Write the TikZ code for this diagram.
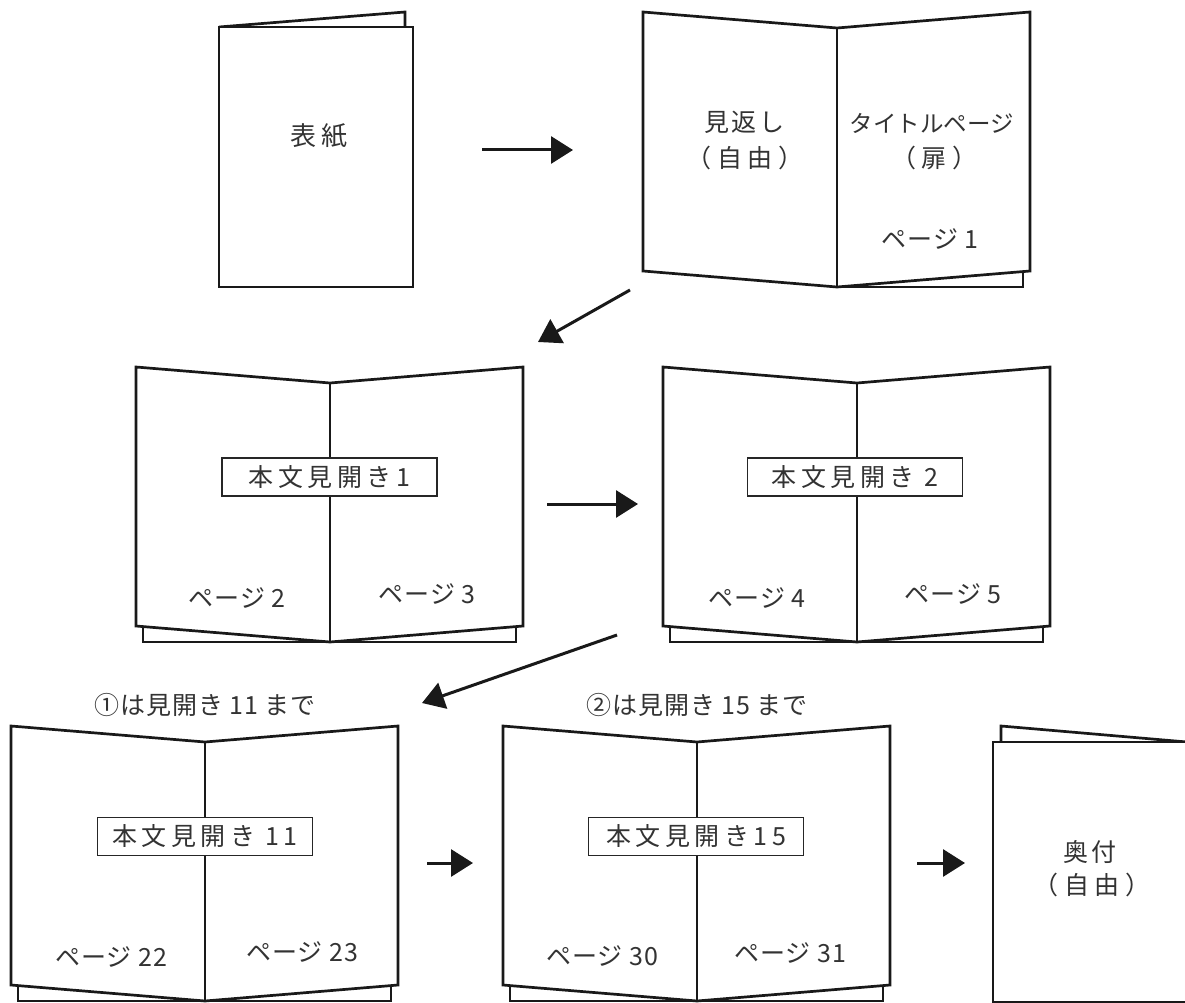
\documentclass[tikz,border=0pt]{standalone}
\usepackage{fontspec}
\usetikzlibrary{arrows.meta}
\newfontfamily\jpa[LetterSpace=4]{Noto Sans CJK JP}
\newfontfamily\jpb[LetterSpace=18]{Noto Sans CJK JP}
\newfontfamily\jpc[LetterSpace=0]{Noto Sans CJK JP}
\newfontfamily\jpd[LetterSpace=22]{Noto Sans CJK JP}
\newfontfamily\jpe[LetterSpace=10]{Noto Sans CJK JP}
\newfontfamily\jpf[LetterSpace=20]{Noto Sans CJK JP}
\begin{document}
\begin{tikzpicture}[x=1pt,y=-1pt,
  outline/.style={line width=2.7pt, line join=miter, fill=white, draw=black!90},
  lbl/.style={inner sep=0pt, text=black!80, font=\jpa\fontsize{25}{34}\selectfont},
  spreadbox/.style={draw=black!85, line width=1.2pt, fill=white, minimum width=215pt, minimum height=38pt, inner sep=0pt, text=black!80, font=\jpb\fontsize{25}{34}\selectfont},
  arr/.style={line width=3pt, draw=black!90, -{Triangle[length=22pt,width=27pt]}},
  spread/.pic={
    \draw[outline] (7,250) -- (7,275) -- (380,275) -- (380,250);
    \draw[outline] (0,0) -- (194,16) -- (387,0) -- (387,259) -- (194,275) -- (0,259) -- cycle;
    \draw[outline] (194,16) -- (194,275);
  },
  titlespread/.pic={
    \draw[outline] (380,250) -- (380,275) -- (194,275);
    \draw[outline] (0,0) -- (194,16) -- (387,0) -- (387,259) -- (194,275) -- (0,259) -- cycle;
    \draw[outline] (194,16) -- (194,275);
  }
]
\useasboundingbox (0,0) rectangle (1185,1003);
\begin{scope}
\clip (0,0) rectangle (1185,1003);

% ---- cover ----
\draw[outline] (219,27) -- (405,12) -- (405,40);
\draw[outline] (219,27) rectangle (413,287);
\node[lbl, font=\jpf\fontsize{26}{34}\selectfont] (cover) at (319,136) {表紙};

% ---- title spread ----
\pic at (643,12) {titlespread};
\node[lbl, font=\jpe\fontsize{25}{34}\selectfont] (mk1) at (744,122) {見返し};
\node[lbl, font=\jpd\fontsize{25}{34}\selectfont] (mk2) at (745,158) {（自由）};
\node[lbl, font=\jpc\fontsize{23.5}{34}\selectfont] (tp1) at (932,123) {タイトルページ};
\node[lbl, font=\jpd\fontsize{25}{34}\selectfont] (tp2) at (934,158) {（扉）};
\node[lbl] (p1) at (930,239) {ページ 1};

% ---- spread 1 ----
\pic at (136,367) {spread};
\node[spreadbox] (s1) at (329.5,477) {本文見開き1};
\node[lbl] (p2) at (237,598) {ページ 2};
\node[lbl] (p3) at (427,594) {ページ 3};

% ---- spread 2 ----
\pic at (663,367) {spread};
\node[spreadbox] (s2) at (855,477) {本文見開き 2};
\node[lbl] (p4) at (757,598) {ページ 4};
\node[lbl] (p5) at (953,594) {ページ 5};

% ---- spread 11 ----
\node[lbl] (h1) at (205,705) {①は見開き 11 まで};
\pic at (11,726) {spread};
\node[spreadbox] (s11) at (205,836.5) {本文見開き 11};
\node[lbl] (p22) at (111,957) {ページ 22};
\node[lbl] (p23) at (302,952) {ページ 23};

% ---- spread 15 ----
\node[lbl] (h2) at (697,705) {②は見開き 15 まで};
\pic at (503,726) {spread};
\node[spreadbox] (s15) at (696,836.5) {本文見開き15};
\node[lbl] (p30) at (602,956) {ページ 30};
\node[lbl] (p31) at (790,953) {ページ 31};

% ---- colophon ----
\draw[outline] (1187,742) -- (1001,726) -- (1001,760);
\draw[outline] (993,742) rectangle (1187,1002);
\node[lbl, font=\jpe\fontsize{25}{34}\selectfont] (ok1) at (1090,852) {奥付};
\node[lbl, font=\jpd\fontsize{25}{34}\selectfont] (ok2) at (1092,885) {（自由）};

% ---- arrows ----
\coordinate (a1s) at (482,150); \coordinate (a1e) at (573,150);
\coordinate (a2s) at (630,290); \coordinate (a2e) at (538,342);
\coordinate (a3s) at (547,504); \coordinate (a3e) at (638,504);
\coordinate (a4s) at (617,635); \coordinate (a4e) at (422,703);
\coordinate (a5s) at (427,863); \coordinate (a5e) at (473,863);
\coordinate (a6s) at (917,863); \coordinate (a6e) at (965,863);
\draw[arr] (a1s) -- (a1e);
\draw[arr] (a2s) -- (a2e);
\draw[arr] (a3s) -- (a3e);
\draw[arr] (a4s) -- (a4e);
\draw[arr] (a5s) -- (a5e);
\draw[arr] (a6s) -- (a6e);
\end{scope}
\end{tikzpicture}
\end{document}
